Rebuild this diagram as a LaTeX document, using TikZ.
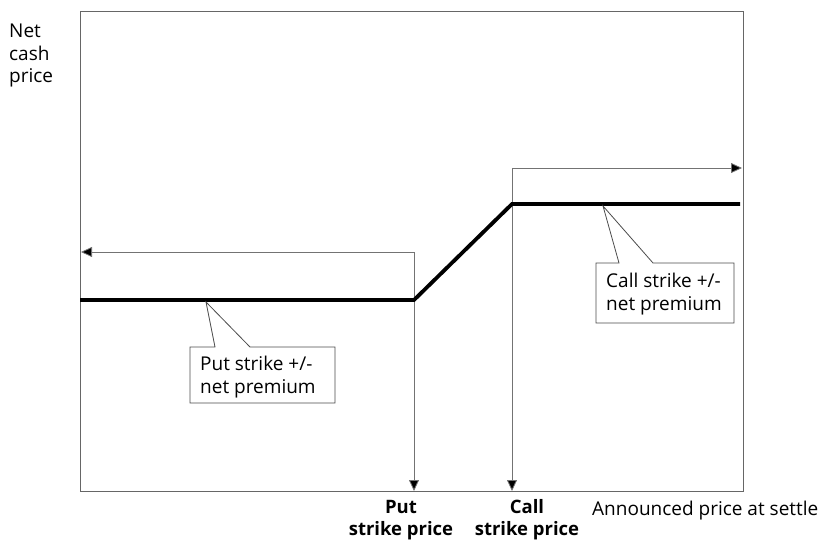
\documentclass[tikz,border=0pt]{standalone}
\usepackage{fontspec}
\setmainfont{Open Sans}
\usetikzlibrary{arrows.meta}
\begin{document}
\begin{tikzpicture}[x=1pt,y=-1pt,
  lbl/.style={font=\fontsize{19}{22.5}\selectfont, inner sep=0pt, align=left},
  blbl/.style={font=\fontsize{18.5}{22}\selectfont\bfseries, inner sep=0pt, align=center},
  frame/.style={draw=black!60, line width=1pt},
  guide/.style={draw=black!55, line width=0.8pt, -{Triangle[length=11pt,width=10pt,fill=black]}},
  payoff/.style={draw=black, line width=3.8pt, line join=miter},
  callout/.style={draw=black!70, fill=white, line width=0.8pt}]
\useasboundingbox (0,0) rectangle (837,540);
% frame
\draw[frame] (80,491) -- (80,12) -- (743,12) -- (743,491) -- cycle;
% key coordinates
\coordinate (pk) at (414,300);
\coordinate (ck) at (512,204);
\coordinate (lend) at (80,300);
\coordinate (rend) at (740,204);
\coordinate (pt) at (414,252);
\coordinate (pa) at (81,252);
\coordinate (ct) at (512,168);
\coordinate (ca) at (742,168);
\coordinate (pb) at (414,491);
\coordinate (cb) at (512,491);
% guides
\draw[guide] (pk) -- (pt) -- (pa);
\draw[guide] (ct) -- (ca);
\draw[guide] (pt) -- (pb);
\draw[guide] (ct) -- (cb);
% payoff
\draw[payoff] (lend) -- (pk) -- (ck) -- (rend);
% put callout
\draw[callout] (190,347) -- (215,347) -- (206,302) -- (250,347) -- (335,347) -- (335,403) -- (190,403) -- cycle;
\node[lbl, anchor=base west] (putc) at (200,393) {Put strike +/-\\net premium};
% call callout
\draw[callout] (596,263) -- (619,263) -- (603,206) -- (653,263) -- (734,263) -- (734,323) -- (596,323) -- cycle;
\node[lbl, anchor=base west] (callc) at (606,310) {Call strike +/-\\net premium};
% axis labels
\node[lbl, anchor=base west] (ylab) at (9,83) {Net\\cash\\price};
\node[blbl, anchor=base] (putl) at (401,535) {Put\\strike price};
\node[blbl, anchor=base] (calll) at (527,535) {Call\\strike price};
\node[lbl, anchor=base west] (xlab) at (592,515) {Announced price at settle};
\end{tikzpicture}
\end{document}
